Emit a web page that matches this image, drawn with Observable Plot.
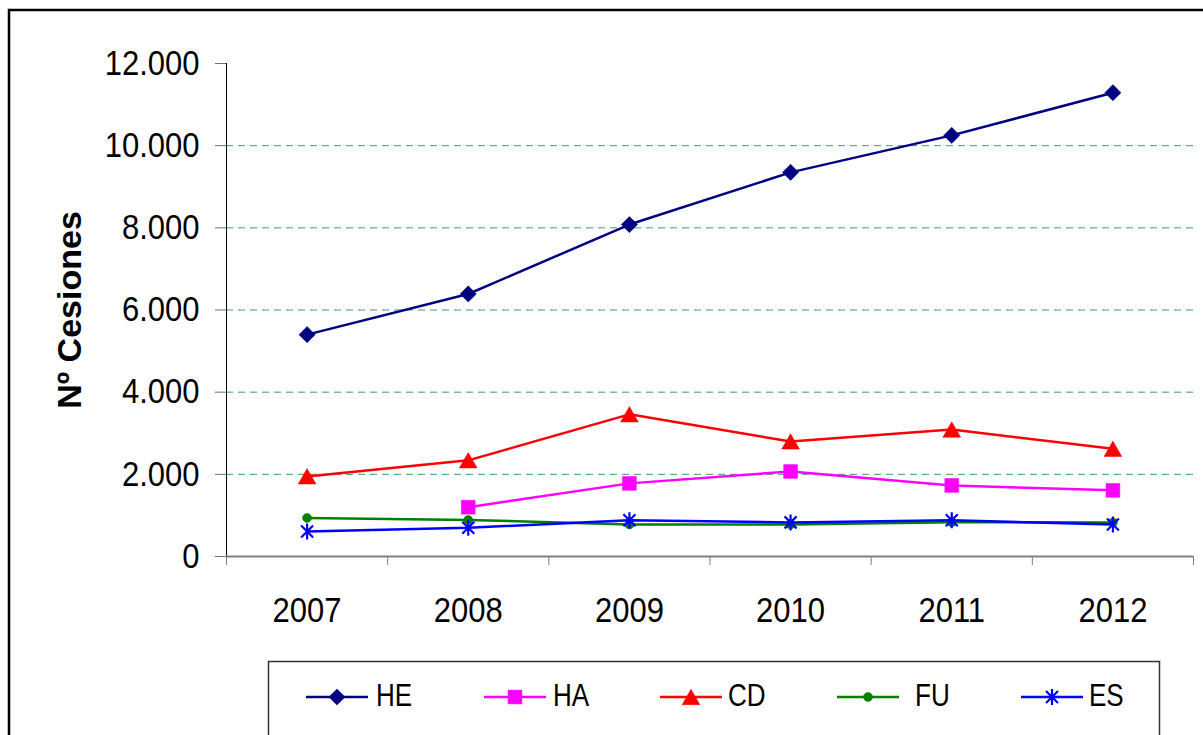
<!DOCTYPE html>
<html><head><meta charset="utf-8">
<script src="https://cdn.jsdelivr.net/npm/d3@7"></script>
<script src="https://cdn.jsdelivr.net/npm/@observablehq/plot@0.6"></script>
<style>
html,body{margin:0;padding:0;background:#fff;}
#chart svg{display:block;}
</style></head><body><div id="chart"></div>
<script>
const years = ["2007","2008","2009","2010","2011","2012"];
const HE = [5400, 6390, 8080, 9350, 10250, 11290];
const HA = [null, 1200, 1780, 2070, 1730, 1610];
const CD = [1950, 2340, 3460, 2800, 3090, 2620];
const FU = [940, 890, 780, 780, 835, 830];
const ES = [610, 700, 880, 830, 880, 780];
const seriesNames = ["HE","HA","CD","FU","ES"];
const seriesValues = [HE, HA, CD, FU, ES];
const seriesColors = ["#000080","#FF00FF","#FF0000","#008000","#0000FF"];
const yTicks = [0,2000,4000,6000,8000,10000,12000];
const gridTicks = [2000,4000,6000,8000,10000];
const yTitle = "Nº Cesiones";

const FONT = "'Liberation Sans', Arial, Helvetica, sans-serif";

// custom Excel-like star marker (vertical bar + X)
const star = {draw(ctx, size){
  const r = Math.sqrt(size/Math.PI);
  ctx.moveTo(0,-r); ctx.lineTo(0,r);
  const d = r*0.75;
  ctx.moveTo(-d,-d); ctx.lineTo(d,d);
  ctx.moveTo(-d,d); ctx.lineTo(d,-d);
}};
const markerSpec = [
  {symbol:"diamond2", r:7.3, fill:true, dy:0},
  {symbol:"square", r:7.8, fill:true, dy:0},
  {symbol:"triangle", r:6.6, fill:true, dy:2.5},
  {symbol:"circle", r:4.5, fill:true, dy:0},
  {symbol:star, r:8, fill:false, dy:0}
];

const rows = seriesNames.flatMap((s, si) =>
  years.map((yr, i) => ({series: s, year: yr, x: i + 0.5, value: seriesValues[si][i]}))
).filter(d => d.value != null);

const fmt = d => d3.format(",")(d).replace(/,/g, ".");

const seriesMarks = seriesNames.flatMap((s, si) => {
  const data = rows.filter(d => d.series === s);
  const m = markerSpec[si];
  return [
    Plot.line(data, {x:"x", y:"value", stroke: seriesColors[si], strokeWidth: 2.5}),
    Plot.dot(data, {x:"x", y:"value", symbol: m.symbol, r: m.r, dy: m.dy,
      fill: m.fill ? seriesColors[si] : "none",
      stroke: seriesColors[si], strokeWidth: m.fill ? 0.5 : 2.2})
  ];
});

const chart = Plot.plot({
  width: 1203, height: 735,
  marginLeft: 226, marginRight: 10, marginTop: 63, marginBottom: 179,
  x: {type: "linear", domain: [0, years.length]},
  y: {domain: [0, 12000]},
  style: {fontFamily: FONT, background: "white", color: "black"},
  marks: [
    Plot.ruleY(gridTicks, {stroke: "#3f9a72", strokeDasharray: "7,5", strokeWidth: 1}),
    Plot.axisY({ticks: yTicks, tickSize: 11, tickPadding: 16, tickFormat: fmt,
      fontSize: 31, label: null, stroke: "#707070"}),
    Plot.axisX({ticks: d3.range(years.length + 1), tickSize: 9, tickFormat: () => "",
      label: null, stroke: "#808080"}),
    Plot.axisX({ticks: years.map((_, i) => i + 0.5), tickSize: 0, tickPadding: 41,
      tickFormat: v => years[Math.floor(v)], fontSize: 31, label: null}),
    Plot.ruleX([0], {y1: 0, y2: 12000, stroke: "black", strokeWidth: 1}),
    Plot.ruleY([0], {stroke: "#808080", strokeWidth: 2}),
    Plot.text([yTitle], {frameAnchor: "left", dx: -156, rotate: -90, textAnchor: "middle",
      lineAnchor: "middle", fontWeight: "bold", fontSize: 34, fill: "black"}),
    ...seriesMarks
  ]
});

document.getElementById("chart").appendChild(chart);

// slight vertical stretch of tick labels, as in the original (Excel) picture
const svg = d3.select(chart);
svg.selectAll('g[aria-label="y-axis tick label"] text, g[aria-label="x-axis tick label"] text')
  .each(function(){
    const t = this.getAttribute("transform") || "";
    this.setAttribute("transform", t + " scale(1,1.13)");
  });

// outer chart border
svg.append("rect").attr("x", 9).attr("y", 10).attr("width", 1210).attr("height", 740)
  .attr("fill", "none").attr("stroke", "black").attr("stroke-width", 2.5);

// legend
const lg = svg.append("g").attr("font-family", FONT).attr("text-anchor", "start");
lg.append("rect").attr("x", 268.5).attr("y", 661.5).attr("width", 891).attr("height", 120)
  .attr("fill", "white").attr("stroke", "#333").attr("stroke-width", 1.5);
const legendX = [306, 484, 660, 837, 1021];
const legendTextGap = [8, 7, 6, 16, 6];
const ly = 697;
seriesNames.forEach((s, i) => {
  const x0 = legendX[i], x1 = x0 + 62, xm = x0 + 31;
  lg.append("line").attr("x1", x0).attr("x2", x1).attr("y1", ly).attr("y2", ly)
    .attr("stroke", seriesColors[i]).attr("stroke-width", 2.5);
  const m = markerSpec[i];
  const size = m.r * m.r * Math.PI;
  const symType = typeof m.symbol === "string"
    ? {diamond2: d3.symbolDiamond2, square: d3.symbolSquare, triangle: d3.symbolTriangle, circle: d3.symbolCircle}[m.symbol]
    : m.symbol;
  lg.append("path").attr("d", d3.symbol(symType, size)())
    .attr("transform", `translate(${xm},${ly + m.dy})`)
    .attr("fill", m.fill ? seriesColors[i] : "none")
    .attr("stroke", seriesColors[i]).attr("stroke-width", m.fill ? 0.5 : 2.2);
  lg.append("text").attr("transform", `translate(${x1 + legendTextGap[i]},${706}) scale(0.93,1.15)`)
    .attr("text-anchor", "start")
    .attr("font-size", 28).attr("fill", "black").text(s);
});
</script>
</body></html>
